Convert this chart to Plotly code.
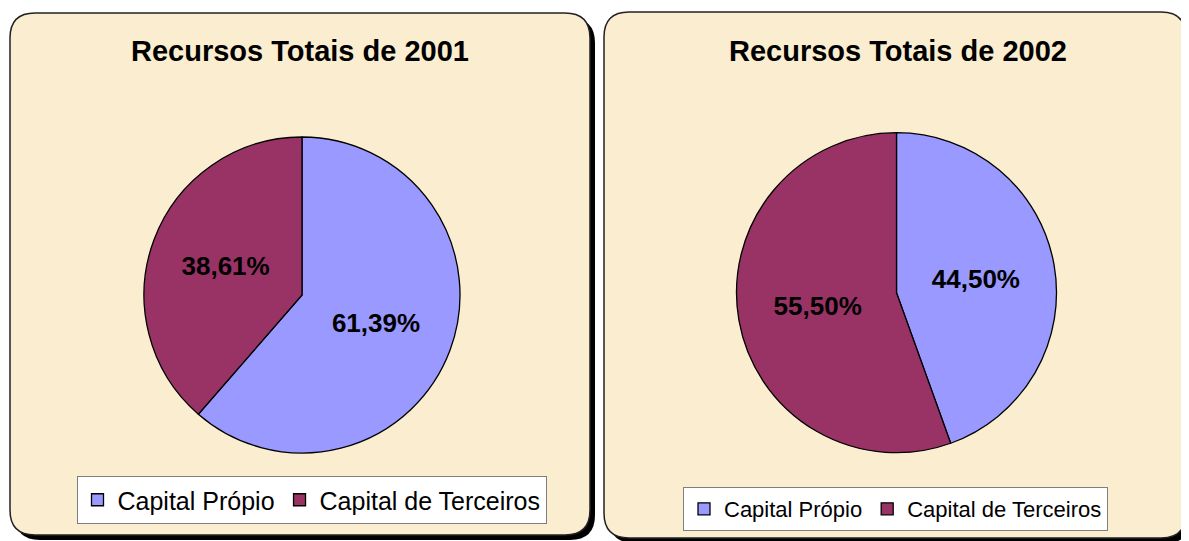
import plotly.graph_objects as go

# page body has an 8px default margin; figure sized to fit the window
OFF = 8
W, H = 1189 - OFF, 541 - OFF

labels = ["Capital Própio", "Capital de Terceiros"]
values_2001 = [61.39, 38.61]
values_2002 = [44.50, 55.50]
titles = ["Recursos Totais de 2001", "Recursos Totais de 2002"]
colors = ["#9999FF", "#993366"]

PANEL = "#FBEDCF"
FONT = "Liberation Sans, Arial, sans-serif"


def px(x):
    return (x - OFF) / W


def py(y):
    return (H - (y - OFF)) / H


def rrect(x0, y0, x1, y1, r):
    def P(x, y):
        return f"{px(x):.5f},{py(y):.5f}"
    return (f"M {P(x0 + r, y0)} L {P(x1 - r, y0)} "
            f"Q {P(x1, y0)} {P(x1, y0 + r)} L {P(x1, y1 - r)} "
            f"Q {P(x1, y1)} {P(x1 - r, y1)} L {P(x0 + r, y1)} "
            f"Q {P(x0, y1)} {P(x0, y1 - r)} L {P(x0, y0 + r)} "
            f"Q {P(x0, y0)} {P(x0 + r, y0)} Z")


def fmt(v):
    return f"{v:.2f}%".replace(".", ",")


fig = go.Figure()

pies = [
    dict(values=values_2001, labels=labels, cx=302, cy=295, r=158, legend="legend"),
    # zero-width space keeps the second pie's legend entries separate
    dict(values=values_2002, labels=[l + "\u200b" for l in labels], cx=896.5, cy=292.7, r=160,
         legend="legend2"),
]

for p in pies:
    fig.add_trace(go.Pie(
        labels=p["labels"],
        values=p["values"],
        text=[fmt(v) for v in p["values"]],
        textinfo="text",
        textposition="inside",
        insidetextorientation="horizontal",
        textfont=dict(family=FONT, size=26, color="black", weight="bold"),
        marker=dict(colors=colors, line=dict(color="black", width=1.3)),
        sort=False,
        direction="clockwise",
        rotation=0,
        domain=dict(x=[px(p["cx"] - p["r"]), px(p["cx"] + p["r"])],
                    y=[py(p["cy"] + p["r"]), py(p["cy"] - p["r"])]),
        legend=p["legend"],
        hoverinfo="label+text",
    ))

shapes = []
shapes.append(dict(type="path", path=rrect(15, 18, 595, 540, 25), fillcolor="black",
                   line=dict(width=0), xref="paper", yref="paper", layer="below"))
shapes.append(dict(type="path", path=rrect(10, 13, 590, 535, 25), fillcolor=PANEL,
                   line=dict(color="#222222", width=1.5), xref="paper", yref="paper", layer="below"))
shapes.append(dict(type="path", path=rrect(609, 17, 1191, 543, 25), fillcolor="black",
                   line=dict(width=0), xref="paper", yref="paper", layer="below"))
shapes.append(dict(type="path", path=rrect(604, 12, 1186, 538, 25), fillcolor=PANEL,
                   line=dict(color="#222222", width=1.5), xref="paper", yref="paper", layer="below"))

annotations = [
    dict(text=f"<b>{titles[0]}</b>", x=px(300), y=py(51), xref="paper", yref="paper",
         showarrow=False, font=dict(family=FONT, size=29, color="black"),
         xanchor="center", yanchor="middle"),
    dict(text=f"<b>{titles[1]}</b>", x=px(898), y=py(51), xref="paper", yref="paper",
         showarrow=False, font=dict(family=FONT, size=29, color="black"),
         xanchor="center", yanchor="middle"),
]

fig.update_layout(
    width=W, height=H,
    margin=dict(l=0, r=0, t=0, b=0),
    paper_bgcolor="white",
    plot_bgcolor="white",
    shapes=shapes,
    annotations=annotations,
    legend=dict(orientation="h", x=px(311.5), y=py(500), xanchor="center", yanchor="middle",
                bgcolor="white", bordercolor="#808080", borderwidth=1,
                font=dict(family=FONT, size=25, color="black"),
                itemwidth=30, tracegroupgap=0),
    legend2=dict(orientation="h", x=px(895.5), y=py(509), xanchor="center", yanchor="middle",
                 bgcolor="white", bordercolor="#808080", borderwidth=1,
                 font=dict(family=FONT, size=22, color="black"),
                 itemwidth=30, tracegroupgap=0),
)

fig.write_html("out.html")
